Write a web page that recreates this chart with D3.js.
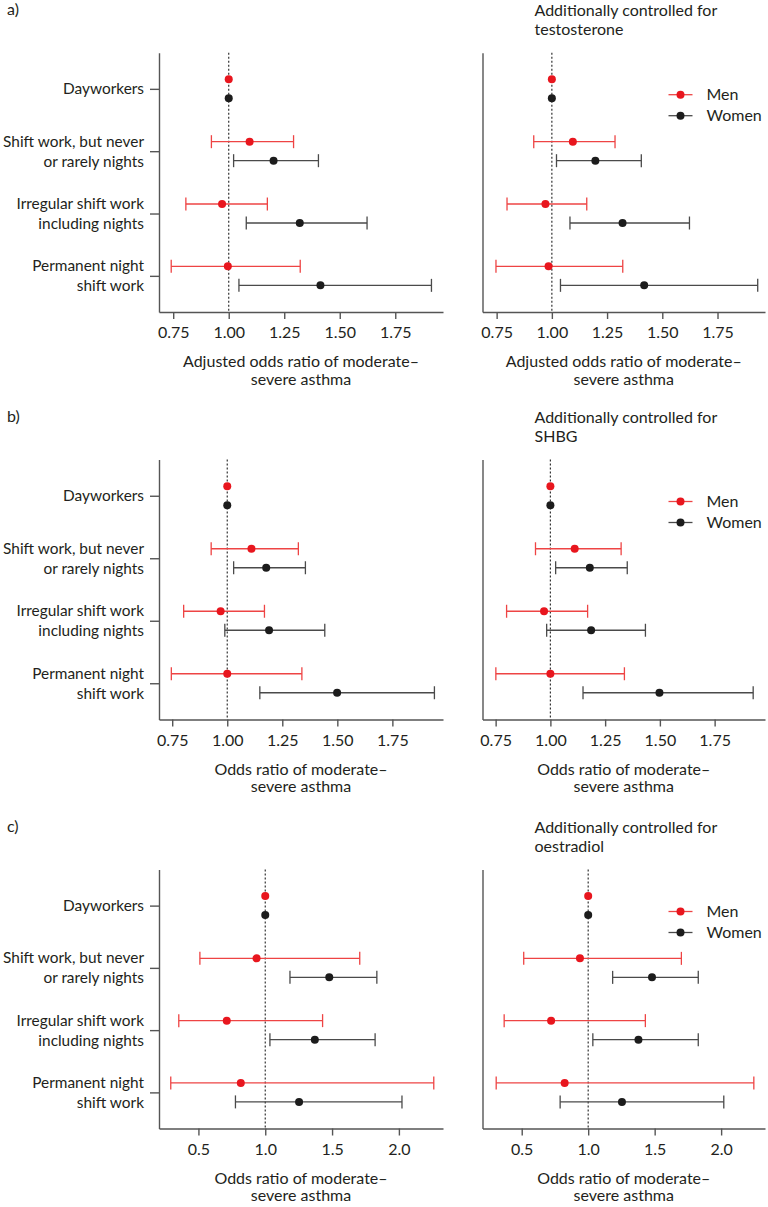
<!DOCTYPE html>
<html><head><meta charset="utf-8">
<script src="https://cdn.jsdelivr.net/npm/d3@7"></script>
<style>
body{margin:0;background:#fff;}
svg{display:block;}
text{font-family:Lato,"Noto Sans",sans-serif;fill:#231f20;}
</style>
</head><body>
<svg id="chart" width="768" height="1207"></svg>
<script>
// ---------- DATA ----------
const categories = [
  ["Dayworkers"],
  ["Shift work, but never", "or rarely nights"],
  ["Irregular shift work", "including nights"],
  ["Permanent night", "shift work"]
];
const seriesNames = ["Men", "Women"];
const panelLabels = ["a)", "b)", "c)"];
const adjustTitles = ["testosterone", "SHBG", "oestradiol"];
const xTitlesA = ["Adjusted odds ratio of moderate–", "severe asthma"];
const xTitlesBC = ["Odds ratio of moderate–", "severe asthma"];
const ticksAB = [0.75, 1.00, 1.25, 1.50, 1.75];
const ticksC = [0.5, 1.0, 1.5, 2.0];

// each row: [odds ratio, lower 95% CI, upper 95% CI]
const aLeftMen    = [[1.00, null, null], [1.094, 0.922, 1.292], [0.970, 0.807, 1.174], [0.996, 0.741, 1.322]];
const aLeftWomen  = [[1.00, null, null], [1.202, 1.022, 1.404], [1.320, 1.079, 1.623], [1.413, 1.046, 1.913]];
const aRightMen   = [[1.00, null, null], [1.095, 0.918, 1.286], [0.971, 0.797, 1.158], [0.985, 0.747, 1.321]];
const aRightWomen = [[1.00, null, null], [1.197, 1.021, 1.405], [1.320, 1.082, 1.623], [1.418, 1.039, 1.932]];
const bLeftMen    = [[1.00, null, null], [1.110, 0.927, 1.323], [0.970, 0.802, 1.169], [1.000, 0.746, 1.339]];
const bLeftWomen  = [[1.00, null, null], [1.177, 1.029, 1.355], [1.190, 0.989, 1.443], [1.499, 1.148, 1.941]];
const bRightMen   = [[1.00, null, null], [1.111, 0.932, 1.323], [0.971, 0.800, 1.170], [1.000, 0.751, 1.338]];
const bRightWomen = [[1.00, null, null], [1.180, 1.024, 1.351], [1.186, 0.983, 1.434], [1.498, 1.149, 1.926]];
const cLeftMen    = [[1.00, null, null], [0.935, 0.511, 1.707], [0.712, 0.353, 1.429], [0.817, 0.293, 2.261]];
const cLeftWomen  = [[1.00, null, null], [1.479, 1.185, 1.835], [1.371, 1.035, 1.822], [1.253, 0.777, 2.023]];
const cRightMen   = [[1.00, null, null], [0.938, 0.515, 1.701], [0.721, 0.368, 1.430], [0.823, 0.308, 2.246]];
const cRightWomen = [[1.00, null, null], [1.480, 1.184, 1.828], [1.378, 1.035, 1.828], [1.254, 0.789, 2.020]];

// ---------- LAYOUT ----------
const colors = {Men: "#e8161e", Women: "#1c1c1c"};
const barColors = {Men: "#ee4444", Women: "#4a4a4a"};
const cols = [{x0: 159, x1: 443}, {x0: 482.5, x1: 765}];
const rows = [{top: 52.7, bottom: 312}, {top: 459.5, bottom: 719.5}, {top: 869.5, bottom: 1128.5}];
const domains = [[0.686, 1.965], [0.69, 1.98], [0.205, 2.33]];

const panels = [
  {r: 0, c: 0, men: aLeftMen,  women: aLeftWomen,  ticks: ticksAB, fmt: d3.format(".2f"), xt: xTitlesA},
  {r: 0, c: 1, men: aRightMen, women: aRightWomen, ticks: ticksAB, fmt: d3.format(".2f"), xt: xTitlesA},
  {r: 1, c: 0, men: bLeftMen,  women: bLeftWomen,  ticks: ticksAB, fmt: d3.format(".2f"), xt: xTitlesBC},
  {r: 1, c: 1, men: bRightMen, women: bRightWomen, ticks: ticksAB, fmt: d3.format(".2f"), xt: xTitlesBC},
  {r: 2, c: 0, men: cLeftMen,  women: cLeftWomen,  ticks: ticksC,  fmt: d3.format(".1f"), xt: xTitlesBC},
  {r: 2, c: 1, men: cRightMen, women: cRightWomen, ticks: ticksC,  fmt: d3.format(".1f"), xt: xTitlesBC}
];

const svg = d3.select("#chart");
const FS = 16;

panels.forEach(p => {
  const col = cols[p.c], row = rows[p.r];
  const x = d3.scaleLinear().domain(domains[p.r]).range([col.x0, col.x1]);
  const y = d3.scalePoint().domain(d3.range(categories.length)).range([row.top, row.bottom]).padding(0.58);
  const g = svg.append("g");

  // x axis
  const xa = g.append("g").attr("transform", `translate(0,${row.bottom})`)
    .call(d3.axisBottom(x).tickValues(p.ticks).tickFormat(p.fmt).tickSize(7).tickSizeOuter(0).tickPadding(8));
  xa.select(".domain").attr("stroke", "#555").attr("stroke-width", 1.4);
  xa.selectAll(".tick line").attr("stroke", "#555").attr("stroke-width", 1.4);
  xa.selectAll(".tick text").style("font-size", FS + "px").style("font-family", "Lato,'Noto Sans',sans-serif").attr("fill", "#231f20");

  // y axis
  const ya = g.append("g").attr("transform", `translate(${col.x0},0)`)
    .call(d3.axisLeft(y).tickSize(p.c === 0 ? 9 : 0).tickSizeOuter(0).tickFormat(""));
  ya.select(".domain").attr("stroke", "#555").attr("stroke-width", 1.4);
  ya.selectAll(".tick line").attr("stroke", "#555").attr("stroke-width", 1.4);

  if (p.c === 0) {
    categories.forEach((lines, i) => {
      const t = g.append("text").attr("text-anchor", "end").style("font-size", "15.4px");
      const n = lines.length;
      lines.forEach((ln, k) => {
        t.append("tspan").attr("x", col.x0 - 15)
          .attr("y", y(i) + (k - (n - 1) / 2) * 20 + 5.5).text(ln);
      });
    });
  }

  // x axis title
  p.xt.forEach((ln, k) => {
    g.append("text").attr("x", (col.x0 + col.x1) / 2).attr("y", row.bottom + 55 + k * 17.5)
      .attr("text-anchor", "middle").style("font-size", FS + "px").text(ln);
  });

  // reference line at OR = 1
  g.append("line").attr("x1", x(1)).attr("x2", x(1)).attr("y1", row.top).attr("y2", row.bottom)
    .attr("stroke", "#333").attr("stroke-width", 1.2).attr("stroke-dasharray", "2,2");

  // series
  [["Men", p.men, -9.5], ["Women", p.women, 9.5]].forEach(([name, data, off]) => {
    const sg = g.append("g");
    data.forEach((d, i) => {
      const yy = y(i) + off;
      if (d[1] !== null) {
        sg.append("line").attr("x1", x(d[1])).attr("x2", x(d[2])).attr("y1", yy).attr("y2", yy)
          .attr("stroke", barColors[name]).attr("stroke-width", 1.3);
        [d[1], d[2]].forEach(v => {
          sg.append("line").attr("x1", x(v)).attr("x2", x(v)).attr("y1", yy - 6.5).attr("y2", yy + 6.5)
            .attr("stroke", barColors[name]).attr("stroke-width", 1.3);
        });
      }
      sg.append("circle").attr("cx", x(d[0])).attr("cy", yy).attr("r", 4).attr("fill", colors[name]);
    });
  });

  if (p.c === 0) {
    svg.append("text").attr("x", 7).attr("y", row.top - 37.5).style("font-size", FS + "px").text(panelLabels[p.r]);
  } else {
    svg.append("text").attr("x", 534.5).attr("y", row.top - 37).style("font-size", FS + "px").text("Additionally controlled for");
    svg.append("text").attr("x", 534.5).attr("y", row.top - 17.5).style("font-size", FS + "px").text(adjustTitles[p.r]);
    // legend
    seriesNames.forEach((name, k) => {
      const ly = row.top + 42 + k * 21;
      const lx = col.x0 + 186;
      svg.append("line").attr("x1", lx).attr("x2", lx + 24).attr("y1", ly).attr("y2", ly)
        .attr("stroke", barColors[name]).attr("stroke-width", 1.3);
      svg.append("circle").attr("cx", lx + 12).attr("cy", ly).attr("r", 4).attr("fill", colors[name]);
      svg.append("text").attr("x", lx + 38).attr("y", ly + 5.5).style("font-size", FS + "px").text(name);
    });
  }
});
</script>
</body></html>
